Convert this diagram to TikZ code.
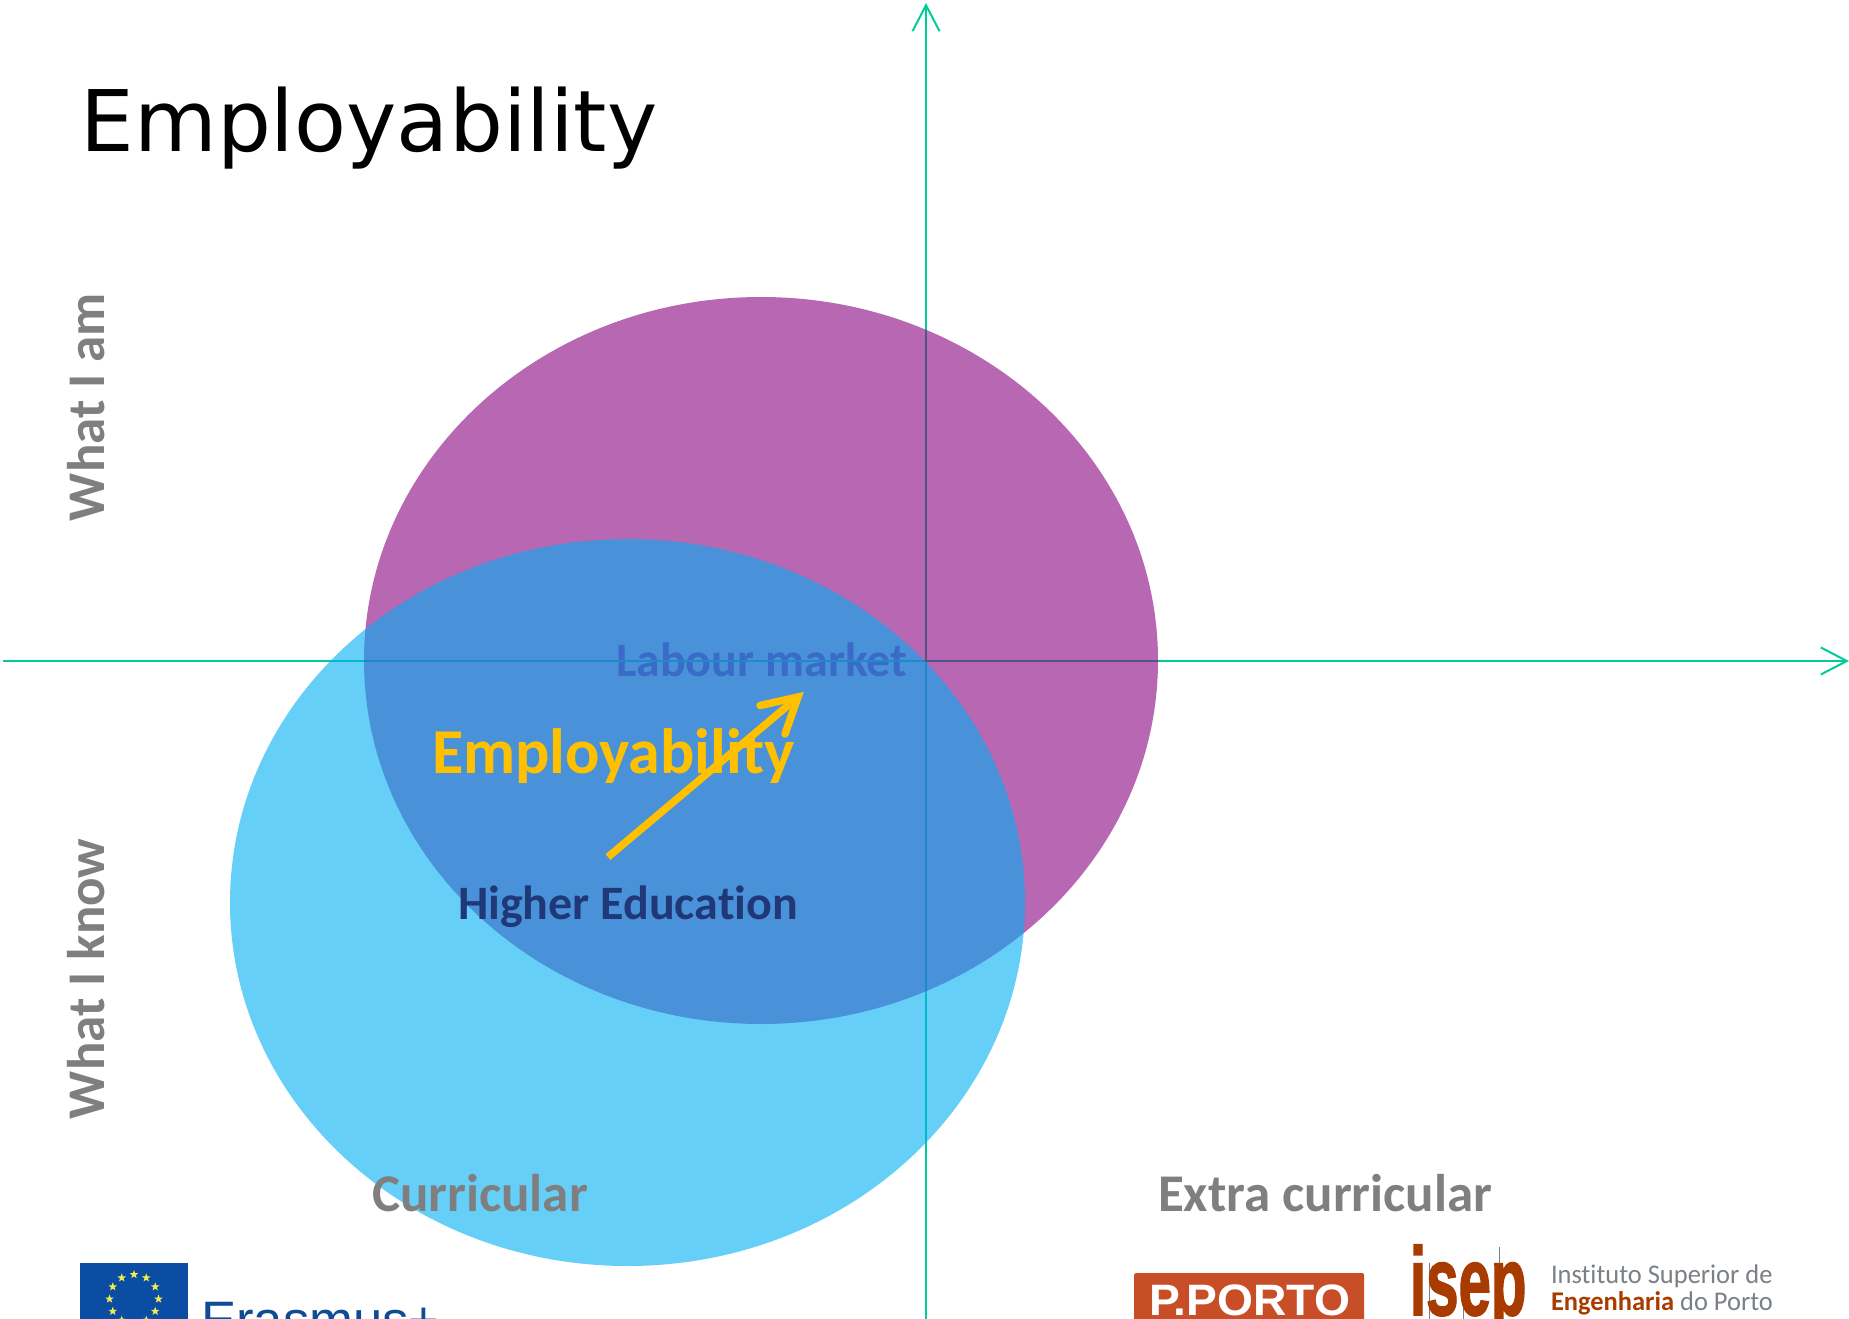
\documentclass[tikz,border=0pt]{standalone}
\usepackage{graphicx}
\usepackage{fontspec}
\usetikzlibrary{arrows.meta,shapes.geometric}
\setmainfont[Ligatures=NoCommon]{Carlito}
\newfontfamily\titlefont{DejaVu Sans}
\newfontfamily\logofont{Liberation Sans}
\newfontfamily\isepfont[FakeBold=2]{Liberation Sans Bold}
\newcommand{\fs}[1]{\fontsize{#1}{#1}\selectfont}
\definecolor{axiscol}{RGB}{0,204,153}
\definecolor{purplefill}{RGB}{137,3,127}
\definecolor{bluefill}{RGB}{0,175,243}
\definecolor{labourcol}{RGB}{147,5,137}
\definecolor{axisunder}{RGB}{82,83,137}
\definecolor{gold}{RGB}{255,192,0}
\definecolor{heblue}{RGB}{32,56,120}
\definecolor{greytext}{RGB}{127,127,127}
\definecolor{eublue}{RGB}{11,77,162}
\definecolor{erablue}{RGB}{15,76,150}
\definecolor{portored}{RGB}{200,78,40}
\definecolor{isepred}{RGB}{168,60,0}
\definecolor{isepgrey}{RGB}{122,128,133}
\definecolor{staryellow}{RGB}{240,235,80}
\tikzset{
  axisline/.style={draw=axiscol,line width=2pt,-{Straight Barb[length=26pt,width=27pt]}},
  blob/.style={fill opacity=.6},
  lbl/.style={inner sep=0pt,outer sep=0pt,anchor=base west,font=\bfseries},
  greylbl/.style={lbl,text=greytext},
  logotext/.style={inner sep=0pt,outer sep=0pt,anchor=base west},
  goldline/.style={draw=gold,line width=7.5pt},
}
\begin{document}
\begin{tikzpicture}[x=1pt,y=-1pt]
\useasboundingbox (0,0) rectangle (1849,1319);
\clip (0,0) rectangle (1849,1319);
\fill[white] (0,0) rectangle (1849,1319);
% axes
\coordinate (xs) at (3,661);
\coordinate (xe) at (1849,661);
\coordinate (ys) at (926,1319);
\coordinate (ye) at (926,3);
\draw[axisline] (xs) -- (xe);
\draw[axisline] (ys) -- (ye);
% purple circle
\fill[purplefill,blob] (761,660.5) ellipse [x radius=397pt,y radius=363.5pt];
% text between the circles
\node[lbl,text=labourcol] (labour) at (616,676) {\fs{48}Labour market};
\draw[axisunder,line width=2pt] (labour.base west |- xs) -- (labour.base east |- xs);
% blue circle
\fill[bluefill,blob] (627.5,902.5) ellipse [x radius=397.5pt,y radius=363.5pt];
% title
\node[logotext] (title) at (80.5,151) {\titlefont\fs{85}Employability};
% labels
\node[lbl,text=gold] (emp) at (432,773) {\fs{64}Employability};
\node[lbl,text=heblue] (he) at (458,919) {\fs{48}Higher Education};
% arrow
\coordinate (arrs) at (608,857);
\coordinate (arrv) at (798,697);
\coordinate (barba) at (760,705.5);
\coordinate (barbb) at (785,734);
\draw[goldline] (arrs) -- (arrv);
\draw[goldline,line cap=round,line join=miter] (barba) -- (arrv) -- (barbb);
\node[greylbl] (cur) at (372,1211) {\fs{53}Curricular};
\node[greylbl] (ext) at (1158,1211) {\fs{53}Extra curricular};
\node[greylbl,rotate=90] (am) at (104,521) {\fs{53}What I am};
\node[greylbl,rotate=90] (know) at (104,1119) {\fs{53}What I know};
% Erasmus+ logo
\node[fill=eublue,minimum width=108pt,minimum height=80pt,inner sep=0pt,anchor=north west] (flag) at (80,1263) {};
\foreach \a in {0,30,...,330}
  \node[star,star points=5,star point ratio=2.4,fill=staryellow,inner sep=0pt,minimum size=9pt,name=s\a] at (134,1299) [shift={(\a:24.5pt)}] {};
\node[logotext,text=erablue] (era) at (201,1338) {\logofont\fs{52.7}Erasmus+};
% P.PORTO logo
\node[fill=portored,rounded corners=1.5pt,minimum width=230pt,minimum height=70pt,inner sep=0pt,anchor=north west] (porto) at (1134,1273) {};
\node[logotext,text=white] (portot) at (1149,1315) {\scalebox{1.05}[1]{\logofont\bfseries\fs{44}P.PORTO}};
% ISEP logo
\draw[isepgrey,line width=1pt] (1429,1263) -- (1429,1319);
\draw[isepgrey,line width=1pt] (1463,1292) -- (1463,1319);
\draw[isepgrey,line width=1pt] (1499,1247) -- (1499,1319);
\node[logotext,text=isepred] (isep) at (1410,1315) {\scalebox{.6}[1]{\isepfont\fs{97}isep}};
\node[logotext,text=isepgrey] (inst) at (1551,1283) {\scalebox{.98}[1]{\fs{27}Instituto Superior de}};
\node[logotext] (eng) at (1551,1310) {\scalebox{.98}[1]{\fs{27}\textcolor{isepred}{\bfseries Engenharia} \textcolor{isepgrey}{do Porto}}};
\end{tikzpicture}
\end{document}
